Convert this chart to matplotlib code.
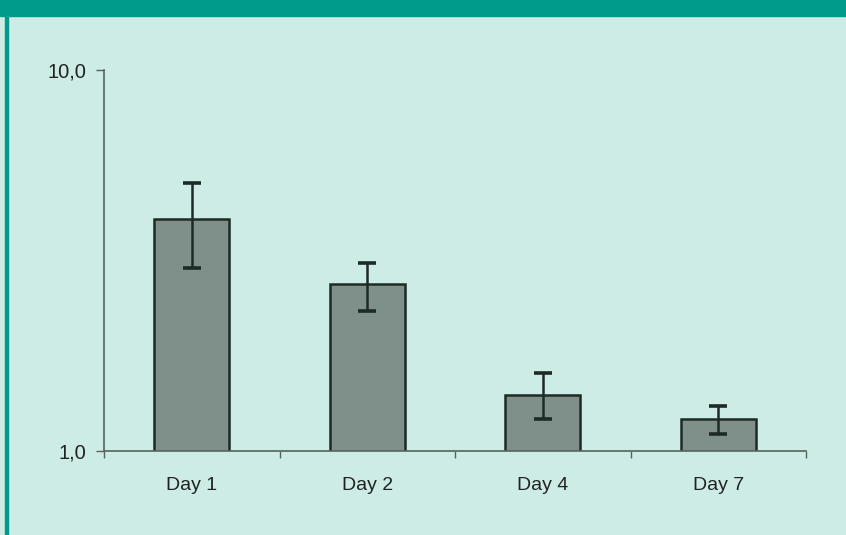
import numpy as np
import matplotlib.pyplot as plt
import matplotlib.patches as patches

# data (log scale)
days = ['Day 1', 'Day 2', 'Day 4', 'Day 7']
means = [4.06, 2.74, 1.40, 1.21]
err_hi = [5.05, 3.11, 1.60, 1.31]
err_lo = [3.02, 2.33, 1.21, 1.11]
ytick_vals = [1.0, 10.0]
ytick_labels = ['1,0', '10,0']

plt.rcParams['font.family'] = ['Liberation Sans', 'DejaVu Sans']

bg = '#cdece6'
green = '#009b8a'

fig = plt.figure(figsize=(8.46, 5.35), dpi=100)
fig.patch.set_facecolor(bg)

# header band and left border
fig.add_artist(patches.Rectangle((0, 1 - 16 / 535), 1, 16 / 535, transform=fig.transFigure,
                                 color=green, zorder=0))
fig.add_artist(patches.Rectangle((5 / 846, 0), 3 / 846, 1, transform=fig.transFigure,
                                 color=green, zorder=0))

ax = fig.add_axes([104 / 846, 1 - 451 / 535, 702 / 846, 381 / 535])
ax.set_facecolor(bg)

x = np.arange(len(days))
means = np.array(means)
yerr = [means - np.array(err_lo), np.array(err_hi) - means]
ax.bar(x, means, width=0.43, color='#7f908b', edgecolor='#1e2a26', linewidth=1.8,
       bottom=0, zorder=2)
ax.errorbar(x, means, yerr=yerr, fmt='none', ecolor='#1e2a26', elinewidth=1.8,
            capsize=6.5, capthick=2.6, zorder=3)

ax.set_yscale('log')
ax.set_ylim(1, 10)
ax.set_xlim(-0.5, len(days) - 0.5)
ax.set_yticks(ytick_vals)
ax.set_yticklabels(ytick_labels)
ax.yaxis.set_minor_locator(plt.NullLocator())
ax.set_xticks(x)
ax.set_xticklabels(days)
ax.set_xticks(np.arange(len(days) + 1) - 0.5, minor=True)
ax.tick_params(axis='x', which='major', length=0, pad=19, labelsize=14, colors='#222222')
ax.tick_params(axis='x', which='minor', length=5, width=1, color='#55645f')
ax.tick_params(axis='y', length=6, width=1, color='#55645f', labelsize=14.5,
               labelcolor='#222222', pad=7)

for s in ['top', 'right']:
    ax.spines[s].set_visible(False)
for s in ['left', 'bottom']:
    ax.spines[s].set_color('#55645f')
    ax.spines[s].set_linewidth(1.2)

fig.savefig('out.png', dpi=100, facecolor=bg)
